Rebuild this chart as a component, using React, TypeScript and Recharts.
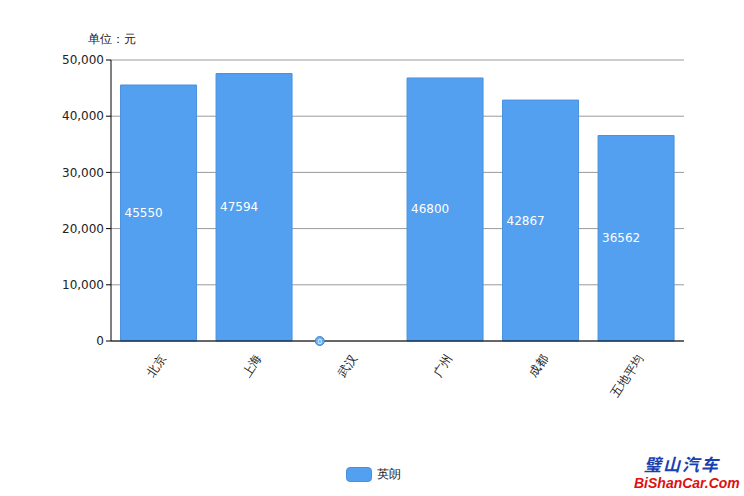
import { BarChart, Bar, XAxis, YAxis, CartesianGrid, LabelList, ReferenceDot } from 'recharts';

const cities = ['北京', '上海', '武汉', '广州', '成都', '五地平均'];
const salaries = [45550, 47594, 0, 46800, 42867, 36562];
const yTicks = [0, 10000, 20000, 30000, 40000, 50000];
const seriesName = '英朗';
const unitLabel = '单位：元';

const data = cities.map((name, i) => ({ name, value: salaries[i] }));
const zeroPoints = data.filter((d) => d.value === 0);

const FONT = '"DejaVu Sans", Verdana, sans-serif';
const BLUE = '#539ff0';

function CityTick(props: any) {
  const { x, y, payload } = props;
  return (
    <g transform={`translate(${x + 4},${y + 7})`}>
      <text
        textAnchor="end"
        transform="rotate(-57)"
        fontSize={12}
        fontFamily={FONT}
        fill="#222"
        dy={4}
      >
        {payload.value}
      </text>
    </g>
  );
}

function ValueLabel(props: any) {
  const { x, y, height, value } = props;
  if (!value) return null;
  return (
    <text x={x + 4} y={y + height / 2 + 4} fontSize={12} fill="#fff" fontFamily={FONT}>
      {value}
    </text>
  );
}

// zero-valued bar: the label sits where the text would start, in a small bubble
function ZeroDot(props: any) {
  const { cx, cy } = props;
  const x = cx - 30;
  return (
    <g>
      <circle cx={x} cy={cy} r={4.5} fill="#6aaaf0" stroke="#3f86d6" strokeWidth={1} />
      <text x={x} y={cy + 2.5} textAnchor="middle" fontSize={7} fill="#fff" fontFamily={FONT}>
        0
      </text>
    </g>
  );
}

export default function App() {
  return (
    <div style={{ position: 'fixed', left: 0, top: 0, width: 744, height: 496, background: '#fff', fontFamily: FONT }}>
      <div style={{ position: 'absolute', left: 88, top: 31, fontSize: 12, color: '#222' }}>{unitLabel}</div>
      <BarChart
        width={744}
        height={496}
        data={data}
        margin={{ top: 60, right: 60, bottom: 0, left: 0 }}
        barCategoryGap="10%"
      >
        <CartesianGrid vertical={false} stroke="#9a9a9a" />
        <XAxis
          dataKey="name"
          tick={<CityTick />}
          tickLine={false}
          axisLine={{ stroke: '#000' }}
          interval={0}
          height={155}
        />
        <YAxis
          width={111}
          domain={[0, 50000]}
          ticks={yTicks}
          tickFormatter={(v: number) => v.toLocaleString('en-US')}
          tick={{ fontSize: 12, fill: '#222', fontFamily: FONT }}
          tickLine={{ stroke: '#000' }}
          tickSize={5}
          axisLine={{ stroke: '#000' }}
        />
        <Bar dataKey="value" name={seriesName} fill={BLUE} stroke="#4a90dc" isAnimationActive={false}>
          <LabelList dataKey="value" content={<ValueLabel />} />
        </Bar>
        {zeroPoints.map((d) => (
          <ReferenceDot key={d.name} x={d.name} y={d.value} shape={<ZeroDot />} ifOverflow="visible" />
        ))}
      </BarChart>
      <div style={{ position: 'absolute', left: 346, top: 466, display: 'flex', alignItems: 'center', fontSize: 12, color: '#222' }}>
        <span style={{ display: 'inline-block', width: 24, height: 13, borderRadius: 4, background: BLUE, border: '1px solid #4a90dc', marginRight: 5 }} />
        <span>{seriesName}</span>
      </div>
      <div style={{ position: 'absolute', left: 644, top: 451, fontSize: 17, fontWeight: 'bold', fontStyle: 'italic', color: '#1a3fb0', letterSpacing: 2, fontFamily: '"Noto Sans CJK SC", sans-serif' }}>
        璧山汽车
      </div>
      <div style={{ position: 'absolute', left: 634, top: 475, fontSize: 14, fontWeight: 'bold', fontStyle: 'italic', color: '#e01010', fontFamily: '"Liberation Sans", Arial, sans-serif' }}>
        BiShanCar.Com
      </div>
    </div>
  );
}
